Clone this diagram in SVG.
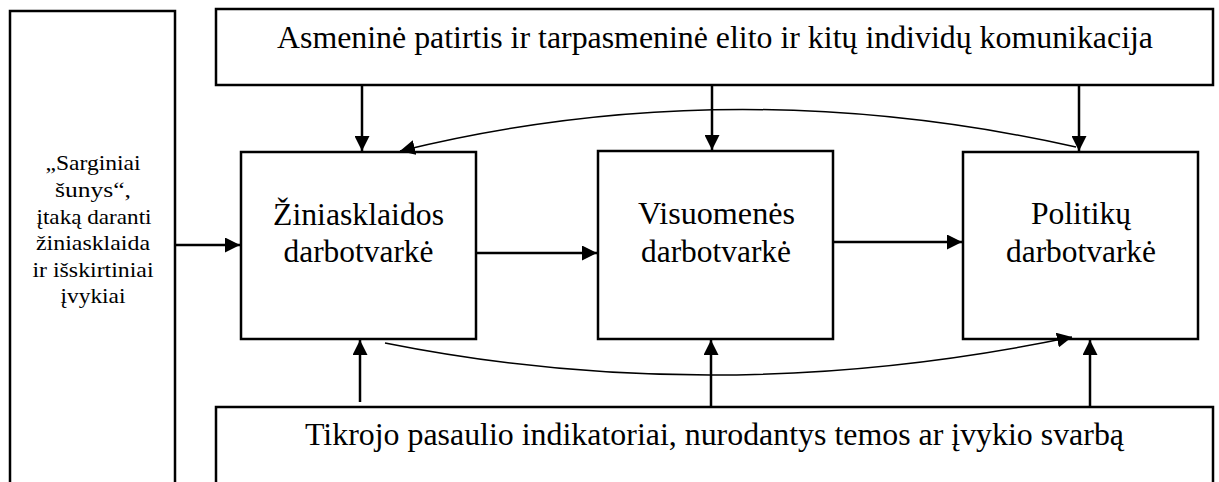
<svg xmlns="http://www.w3.org/2000/svg" width="1219" height="482" viewBox="0 0 1219 482">
<style>
.box{fill:#fff;stroke:#000;stroke-width:2.5}
text{font-family:'Liberation Serif','Times New Roman',Tinos,'Noto Serif','DejaVu Serif',FreeSerif,serif;fill:#000;text-anchor:middle}
.big{font-size:31px}
.small{font-size:22px}
.ln{fill:none;stroke:#000;stroke-width:2.5}
.cv{fill:none;stroke:#000;stroke-width:1.5}
</style>
<defs>
<marker id="ah" viewBox="0 0 10 10" refX="10" refY="5" markerWidth="15" markerHeight="15" markerUnits="userSpaceOnUse" orient="auto">
<path d="M0,0 L10,5 L0,10 z" fill="#000"/>
</marker>
</defs>
<rect width="1219" height="482" fill="#fff"/>
<g id="left">
<rect class="box" x="10" y="11" width="165" height="480"/>
<text class="small" x="93" y="170" textLength="95" lengthAdjust="spacingAndGlyphs">„Sarginiai</text>
<text class="small" x="93" y="197" textLength="76" lengthAdjust="spacingAndGlyphs">šunys“,</text>
<text class="small" x="94" y="224" textLength="115" lengthAdjust="spacingAndGlyphs">įtaką daranti</text>
<text class="small" x="93" y="250" textLength="114" lengthAdjust="spacingAndGlyphs">žiniasklaida</text>
<text class="small" x="93" y="277" textLength="121" lengthAdjust="spacingAndGlyphs">ir išskirtiniai</text>
<text class="small" x="93" y="303" textLength="65" lengthAdjust="spacingAndGlyphs">įvykiai</text>
</g>
<g id="top">
<rect class="box" x="216" y="9" width="997" height="76"/>
<text class="big" x="715" y="48" textLength="876" lengthAdjust="spacingAndGlyphs">Asmeninė patirtis ir tarpasmeninė elito ir kitų individų komunikacija</text>
</g>
<g id="media">
<rect class="box" x="241" y="152" width="235" height="187"/>
<text class="big" x="358.5" y="225" textLength="171" lengthAdjust="spacingAndGlyphs">Žiniasklaidos</text>
<text class="big" x="358.5" y="262" textLength="150" lengthAdjust="spacingAndGlyphs">darbotvarkė</text>
</g>
<g id="public">
<rect class="box" x="598" y="151" width="235" height="188"/>
<text class="big" x="716.5" y="224" textLength="157" lengthAdjust="spacingAndGlyphs">Visuomenės</text>
<text class="big" x="716" y="262" textLength="150" lengthAdjust="spacingAndGlyphs">darbotvarkė</text>
</g>
<g id="policy">
<rect class="box" x="963" y="152" width="235" height="187"/>
<text class="big" x="1081" y="224" textLength="100" lengthAdjust="spacingAndGlyphs">Politikų</text>
<text class="big" x="1081" y="262" textLength="150" lengthAdjust="spacingAndGlyphs">darbotvarkė</text>
</g>
<g id="bottom">
<rect class="box" x="216" y="407" width="997" height="84"/>
<text class="big" x="714.5" y="445" textLength="819" lengthAdjust="spacingAndGlyphs">Tikrojo pasaulio indikatoriai, nurodantys temos ar įvykio svarbą</text>
</g>
<g id="connectors">
<line class="ln" x1="362" y1="85" x2="362" y2="151" marker-end="url(#ah)"/>
<line class="ln" x1="712" y1="85" x2="712" y2="150" marker-end="url(#ah)"/>
<line class="ln" x1="1079" y1="85" x2="1079" y2="151" marker-end="url(#ah)"/>
<line class="ln" x1="360" y1="402" x2="360" y2="340" marker-end="url(#ah)"/>
<line class="ln" x1="711" y1="407" x2="711" y2="340" marker-end="url(#ah)"/>
<line class="ln" x1="1090" y1="407" x2="1090" y2="340" marker-end="url(#ah)"/>
<line class="ln" x1="175" y1="245" x2="240" y2="245" marker-end="url(#ah)"/>
<line class="ln" x1="476" y1="253" x2="597" y2="253" marker-end="url(#ah)"/>
<line class="ln" x1="833" y1="242" x2="962" y2="242" marker-end="url(#ah)"/>
<path class="cv" d="M1076,147 Q730,70 400,151" marker-end="url(#ah)"/>
<path class="cv" d="M385,343 Q720,410 1072,337" marker-end="url(#ah)"/>
</g>
</svg>
